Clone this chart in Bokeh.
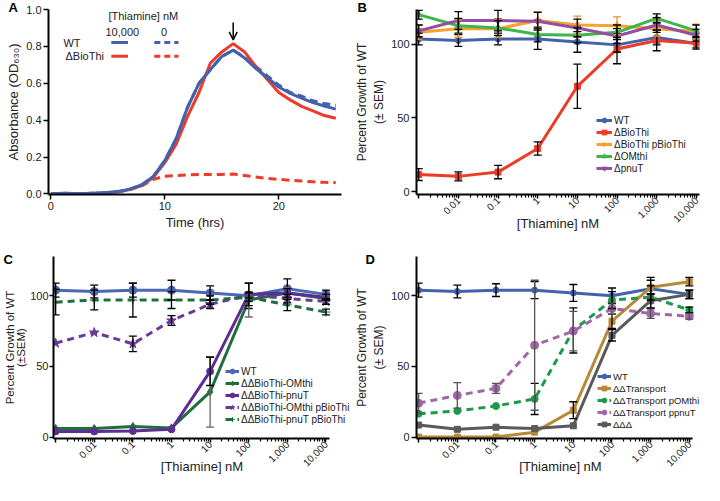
import math
from bokeh.plotting import figure
from bokeh.models import (ColumnDataSource, Whisker, TeeHead, Label, Arrow, OpenHead,
                          FixedTicker, Range1d)
from bokeh.layouts import row, column
from bokeh.embed import file_html
from bokeh.resources import INLINE

FONT = "Liberation Sans"

# ---------------- Panel A data ----------------
hours = list(range(26))
wt_10000 = [0.0, 0.004, 0.002, 0.003, 0.005, 0.008, 0.014, 0.027, 0.05, 0.095, 0.18, 0.30, 0.47,
            0.60, 0.675, 0.745, 0.78, 0.737, 0.68, 0.63, 0.58, 0.545, 0.52, 0.495, 0.477, 0.46]
wt_0 = [0.0, 0.004, 0.002, 0.003, 0.005, 0.008, 0.014, 0.027, 0.05, 0.095, 0.18, 0.30, 0.47,
        0.60, 0.675, 0.745, 0.78, 0.74, 0.69, 0.64, 0.59, 0.55, 0.53, 0.505, 0.49, 0.48]
biothi_10000 = [0.0, 0.002, 0.001, 0.002, 0.003, 0.006, 0.012, 0.025, 0.045, 0.09, 0.17, 0.27, 0.42,
                0.55, 0.71, 0.77, 0.815, 0.77, 0.69, 0.62, 0.55, 0.51, 0.475, 0.45, 0.425, 0.41]
biothi_0 = [0.0, 0.002, 0.001, 0.002, 0.003, 0.006, 0.012, 0.025, 0.045, 0.079, 0.096, 0.10, 0.104,
            0.105, 0.105, 0.106, 0.108, 0.10, 0.092, 0.084, 0.079, 0.074, 0.07, 0.066, 0.063, 0.061]

# ---------------- Panels B-D shared x ----------------
conc = [0.001, 0.01, 0.1, 1, 10, 100, 1000, 10000]
conc_labels = ["", "0.01", "0.1", "1", "10", "100", "1,000", "10,000"]

# ---------------- Panel B data ----------------
b_wt = [103.5, 102.5, 103.5, 103.5, 101.5, 99.5, 104.5, 100.5]
b_wt_err = [4, 4, 4, 7, 7, 5, 5, 3]
b_biothi = [11.5, 10.3, 13.2, 29.2, 71.4, 96.7, 102.5, 100.6]
b_biothi_err = [4, 3, 4.5, 4.5, 15, 10, 7, 4]
b_biothi_p = [108, 110.5, 110.5, 116, 113, 112.5, 110.5, 108.5]
b_biothi_p_err = [5, 6, 6, 6, 6, 6, 5, 5]
b_omthi = [120, 112.5, 111, 106.5, 106, 108, 117.5, 109]
b_omthi_err = [3, 5, 5, 5, 5, 5, 3, 4]
b_pnut = [109, 116, 116, 115.5, 111, 105.5, 113, 106]
b_pnut_err = [4, 6, 7, 6, 6, 5, 5, 4]

# ---------------- Panel C data ----------------
c_wt = [104, 103, 104, 104, 102, 100, 105, 101]
c_wt_err = [5, 4.5, 5, 7, 5, 9, 7, 3]
c_omthi = [6, 6, 7.5, 6.5, 32, 97, 102, 98]
c_omthi_err = [0, 0, 0, 0, 25, 12, 4, 2]
c_pnut = [4, 4, 4.3, 5.5, 46.5, 101, 102, 99]
c_pnut_err = [0, 0, 0, 0, 10, 8, 3, 2]
c_omthi_p = [66.5, 74, 66, 82.5, 94, 100.5, 98, 96]
c_omthi_p_err = [0, 0, 5.5, 3.5, 3, 2, 3, 2]
c_pnut_p = [95.5, 97, 97, 97, 97, 99, 93.5, 88.5]
c_pnut_p_err = [9, 7, 12, 6, 3, 3, 4, 2]

# ---------------- Panel D data ----------------
d_wt = [104, 103, 104, 104, 102, 100, 105, 101]
d_wt_err = [5, 4.5, 4.5, 6, 6, 5.5, 8, 3]
d_transport = [0, 0, 0, 3.5, 19, 82, 106, 110]
d_transport_err = [0, 0, 0, 0, 6, 5, 5, 3]
d_p_omthi = [16.5, 18.5, 22, 27, 75.5, 97, 99, 90]
d_p_omthi_err = [0, 0, 0, 11, 16, 6, 8, 2]
d_p_pnut = [24, 29.5, 34.5, 65, 75, 91, 87.5, 85.5]
d_p_pnut_err = [7, 9, 3.5, 46, 14, 4, 3.5, 2]
d_triple = [8.5, 5.5, 7, 6, 8, 72, 96.5, 101]
d_triple_err = [0, 0, 0, 0, 0, 4, 5, 3]


def base_style(p, xlabel, ylabel, ylab_size="12px", ylab_lh=1.2):
    p.outline_line_color = None
    p.xgrid.grid_line_color = None
    p.ygrid.grid_line_color = None
    p.background_fill_color = "white"
    p.border_fill_color = "white"
    for ax in p.axis:
        ax.axis_line_width = 2
        ax.axis_line_color = "black"
        ax.major_tick_line_width = 1.5
        ax.major_tick_line_color = "black"
        ax.major_tick_out = 5
        ax.major_tick_in = 0
        ax.minor_tick_out = 3
        ax.minor_tick_in = 0
        ax.minor_tick_line_width = 1.2
        ax.minor_tick_line_color = "black"
        ax.major_label_text_font = FONT
        ax.major_label_text_font_size = "11px"
        ax.major_label_text_color = "#222222"
        ax.major_label_standoff = 2
        ax.axis_label_text_font = FONT
        ax.axis_label_text_font_style = "normal"
        ax.axis_label_text_color = "#222222"
        ax.axis_label_standoff = 2
    p.xaxis.axis_label = xlabel
    p.xaxis.axis_label_text_font_size = "13px"
    p.yaxis.axis_label = ylabel
    p.yaxis.axis_label_text_font_size = ylab_size
    p.yaxis.axis_label_text_line_height = ylab_lh


def letter(p, txt, offset, standoff):
    p.title.text = txt
    p.title.align = "left"
    p.title.vertical_align = "bottom"
    p.title.offset = offset
    p.title.standoff = standoff
    p.title.text_font = FONT
    p.title.text_font_size = "13px"
    p.title.text_font_style = "bold"
    p.title.text_color = "black"


def log_x(p, label_standoff):
    minors = [k * d for d in conc[:-1] for k in range(2, 10)]
    p.xaxis.ticker = FixedTicker(ticks=conc, minor_ticks=minors)
    p.xaxis.major_label_overrides = dict(zip(conc, conc_labels))
    p.xaxis.major_label_orientation = math.pi / 4
    p.xaxis.major_label_text_font_size = "10px"
    p.xaxis.major_label_standoff = 0
    p.xaxis.major_tick_out = 4
    p.xaxis.axis_label_standoff = label_standoff
    p.xaxis.bounds = (0.00088, 12000)
    p.yaxis.ticker = FixedTicker(ticks=[0, 50, 100])
    p.yaxis.minor_tick_line_color = None


def series(p, y, err, color, name, marker, size, dash="solid", ecolor="black"):
    p.line(conc, y, line_color=color, line_width=3, line_dash=dash, legend_label=name)
    keep = [i for i, e in enumerate(err) if e > 0]
    if keep:
        src = ColumnDataSource(dict(x=[conc[i] for i in keep],
                                    upper=[y[i] + err[i] for i in keep],
                                    lower=[y[i] - err[i] for i in keep]))
        p.add_layout(Whisker(source=src, base="x", upper="upper", lower="lower",
                             line_color=ecolor, line_width=1.3, level="glyph",
                             upper_head=TeeHead(size=8, line_color=ecolor, line_width=1.3),
                             lower_head=TeeHead(size=8, line_color=ecolor, line_width=1.3)))
    p.scatter(conc, y, marker=marker, size=size, fill_color=color, line_color=color,
              legend_label=name)


def legend_style(p, x, y, gw=16, fs="10px"):
    lg = p.legend[0]
    lg.location = (x, y)
    lg.label_text_font = FONT
    lg.label_text_font_size = fs
    lg.label_text_color = "#222222"
    lg.glyph_width = gw
    lg.glyph_height = 12
    lg.label_height = 12
    lg.label_standoff = 2
    lg.spacing = 0
    lg.padding = 0
    lg.margin = 0
    lg.background_fill_alpha = 0
    lg.border_line_alpha = 0


W = 352
# ---------------- Panel A ----------------
HA = 242
LA, RA, TA, BA = 48, 11, 9, 48
pA = figure(width=W, height=HA, output_backend="svg", toolbar_location=None,
            x_range=Range1d(-0.2, 25.5), y_range=Range1d(-0.003, 1.0),
            min_border_left=LA, min_border_right=RA, min_border_top=TA, min_border_bottom=BA)
base_style(pA, "Time (hrs)", "Absorbance (OD\u2086\u2083\u2080)", ylab_size="13px")
pA.xaxis.ticker = FixedTicker(ticks=[0, 10, 20])
pA.yaxis.ticker = FixedTicker(ticks=[0, 0.2, 0.4, 0.6, 0.8, 1.0])
pA.yaxis.major_label_overrides = {0: "0.0", 0.2: "0.2", 0.4: "0.4", 0.6: "0.6", 0.8: "0.8", 1.0: "1.0"}
pA.xaxis.minor_tick_line_color = None
pA.yaxis.minor_tick_line_color = None
BLUE_A, RED_A = "#4262ad", "#ec3b2b"
pA.line(hours, biothi_0, line_color=RED_A, line_width=3, line_dash="8 5")
pA.line(hours, wt_0, line_color=BLUE_A, line_width=3, line_dash="8 5")
pA.line(hours, biothi_10000, line_color=RED_A, line_width=3)
pA.line(hours, wt_10000, line_color=BLUE_A, line_width=3)
pA.add_layout(Arrow(end=OpenHead(size=8, line_width=1.5, line_color="black"),
                    x_start=16, y_start=0.93, x_end=16, y_end=0.835,
                    line_width=1.5, line_color="black"))
# custom legend
for txt, x, y, al in [("[Thiamine] nM", 5.06, 0.963, "left"), ("10,000", 4.8, 0.879, "left"),
                      ("0", 9.94, 0.879, "center"), ("WT", 1.11, 0.821, "left"),
                      ("\u0394BioThi", 1.29, 0.747, "left")]:
    pA.add_layout(Label(x=x, y=y, text=txt, text_font=FONT, text_font_size="11px",
                        text_baseline="middle", text_align=al, text_color="#222222"))
pA.segment(x0=[5.31, 5.31], y0=[0.821, 0.747], x1=[6.77, 6.77], y1=[0.821, 0.747],
           line_color=[BLUE_A, RED_A], line_width=3)
pA.segment(x0=[9.08, 9.08], y0=[0.821, 0.747], x1=[11.2, 11.2], y1=[0.821, 0.747],
           line_color=[BLUE_A, RED_A], line_width=3, line_dash="6 4")
letter(pA, "A", 8 - LA, -11)

# ---------------- Panel B ----------------
LB, RB, TB, BB = 62, 5, 9, 48
pB = figure(width=W, height=HA, output_backend="svg", toolbar_location=None,
            x_axis_type="log", x_range=Range1d(0.00088, 12000), y_range=Range1d(-2, 123.5),
            min_border_left=LB, min_border_right=RB, min_border_top=TB, min_border_bottom=BB)
base_style(pB, "[Thiamine] nM", "Percent Growth of WT\n(\u00b1 SEM)")
log_x(pB, -13)
series(pB, b_wt, b_wt_err, "#4262ad", "WT", "circle", 6)
series(pB, b_biothi, b_biothi_err, "#ec3b26", "\u0394BioThi", "square", 6)
series(pB, b_biothi_p, b_biothi_p_err, "#f7a12e", "\u0394BioThi pBioThi", "diamond", 8,
       ecolor="#e09030")
series(pB, b_omthi, b_omthi_err, "#3fb44b", "\u0394OMthi", "triangle", 7)
series(pB, b_pnut, b_pnut_err, "#9150a1", "\u0394pnuT", "inverted_triangle", 7)
legend_style(pB, 180, 20)
letter(pB, "B", 3 - LB, -11)

# ---------------- Panel C ----------------
HC = 243
LC, RC, TC, BC = 50, 2, 14, 47
pC = figure(width=W, height=HC, output_backend="svg", toolbar_location=None,
            x_axis_type="log", x_range=Range1d(0.00088, 43200), y_range=Range1d(-1, 127.8),
            min_border_left=LC, min_border_right=RC, min_border_top=TC, min_border_bottom=BC)
base_style(pC, "[Thiamine] nM", "Percent Growth of WT\n(\u00b1SEM)", ylab_size="11.5px", ylab_lh=0.95)
log_x(pC, -14)
pC.yaxis.major_tick_out = 4
pC.yaxis.major_label_standoff = 1
pC.yaxis.axis_label_standoff = 0
series(pC, c_wt, c_wt_err, "#4a68b3", "WT", "circle", 8)
series(pC, c_omthi, c_omthi_err, "#1e6f3d", "\u0394\u0394BioThi-OMthi", "diamond", 8,
       ecolor="#666666")
series(pC, c_pnut, c_pnut_err, "#5e2d91", "\u0394\u0394BioThi-pnuT", "circle", 7)
series(pC, c_omthi_p, c_omthi_p_err, "#6a3a9a", "\u0394\u0394BioThi-OMthi pBioThi", "star", 10,
       dash="7 5")
series(pC, c_pnut_p, c_pnut_p_err, "#1e6f3d", "\u0394\u0394BioThi-pnuT pBioThi", "cross", 9,
       dash="7 5")
legend_style(pC, 172, 13, gw=14)
letter(pC, "C", 0 - LC, -20)

# ---------------- Panel D ----------------
LD, RD, TD, BD = 63, 0, 14, 47
pD = figure(width=W, height=HC, output_backend="svg", toolbar_location=None,
            x_axis_type="log", x_range=Range1d(0.00088, 24700), y_range=Range1d(-1, 127.8),
            min_border_left=LD, min_border_right=RD, min_border_top=TD, min_border_bottom=BD)
base_style(pD, "[Thiamine] nM", "Percent Growth of WT\n(\u00b1 SEM)")
log_x(pD, -14)
series(pD, d_wt, d_wt_err, "#4262ad", "WT", "circle", 6)
series(pD, d_transport, d_transport_err, "#b8883b", "\u0394\u0394Transport", "square", 6)
series(pD, d_p_omthi, d_p_omthi_err, "#1b9a4b", "\u0394\u0394Transport pOMthi", "circle", 7,
       dash="7 5")
series(pD, d_p_pnut, d_p_pnut_err, "#a265aa", "\u0394\u0394Transport ppnuT", "circle", 8,
       dash="7 5", ecolor="#555555")
series(pD, d_triple, d_triple_err, "#5a5a5a", "\u0394\u0394\u0394", "square", 6)
legend_style(pD, 181, 8, gw=14, fs="9.5px")
letter(pD, "D", 12 - LD, -20)

layout = column(row(pA, pB, spacing=0), row(pC, pD, spacing=0), spacing=0)
open("out.html", "w").write(file_html(layout, INLINE))
